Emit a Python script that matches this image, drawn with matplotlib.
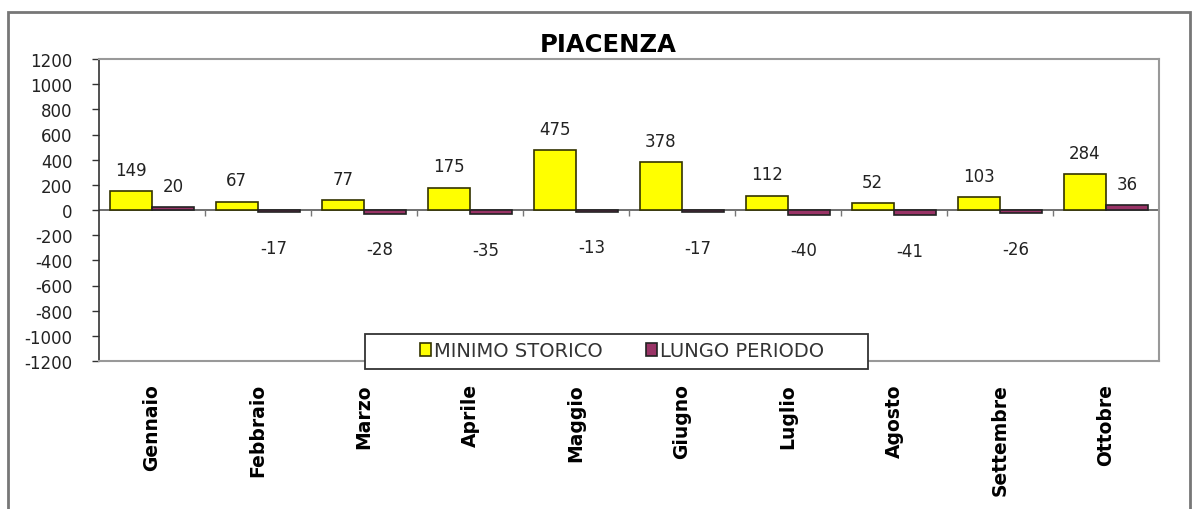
import matplotlib
matplotlib.use("Agg")
import matplotlib.pyplot as plt
from matplotlib.patches import Rectangle
import numpy as np

categories = ["Gennaio", "Febbraio", "Marzo", "Aprile", "Maggio", "Giugno",
              "Luglio", "Agosto", "Settembre", "Ottobre"]
minimo_storico = [149, 67, 77, 175, 475, 378, 112, 52, 103, 284]
lungo_periodo = [20, -17, -28, -35, -13, -17, -40, -41, -26, 36]
yticks = list(range(-1200, 1201, 200))
title = "PIACENZA"

plt.rcParams['font.family'] = ['DejaVu Sans']
fig = plt.figure(figsize=(11.93, 5.10), dpi=100)
ax = fig.add_axes([99/1193, 1 - 362/510, (1159-99)/1193, (362-60)/510])

x = np.arange(len(categories))
w = 0.4
b1 = ax.bar(x - w/2, minimo_storico, w, color="#FFFF00", edgecolor="#333300", linewidth=1.2,
            label="MINIMO STORICO", zorder=3)
b2 = ax.bar(x + w/2, lungo_periodo, w, color="#993366", edgecolor="#222222", linewidth=1.2,
            label="LUNGO PERIODO", zorder=3)

for bars, vals in ((b1, minimo_storico), (b2, lungo_periodo)):
    for r, v in zip(bars, vals):
        cx = r.get_x() + r.get_width()/2
        if v >= 0:
            ax.annotate(str(v), (cx, v), xytext=(0, 9), textcoords="offset points",
                        ha="center", va="bottom", fontsize=12, color="#222222")
        else:
            ax.annotate(str(v), (cx - 0.05, v), xytext=(0, -19), textcoords="offset points",
                        ha="center", va="top", fontsize=12, color="#222222")

ax.set_xlim(-0.5, len(categories) - 0.5)
ax.set_ylim(-1200, 1200)
ax.set_yticks(yticks)
ax.set_yticklabels([str(t) for t in yticks], fontsize=12, color="#222222")
ax.tick_params(axis="y", direction="out", length=5, width=1, color="#333333", pad=14)

ax.set_xticks(x)
ax.set_xticklabels(categories, rotation=90, fontsize=13.5, fontweight="bold", va="top")
ax.tick_params(axis="x", length=0, pad=16)

# zero line with category separators
ax.axhline(0, color="#555555", linewidth=1.2, zorder=2)
ax.vlines(x[1:] - 0.5, -45, 0, color="#777777", linewidth=1, zorder=2)

for s in ("top", "right", "bottom"):
    ax.spines[s].set_color("#999999")
    ax.spines[s].set_linewidth(1.5)
ax.spines["left"].set_color("#333333")
ax.spines["left"].set_linewidth(1.2)

fig.text(608/1193, 1 - 45/510, title, ha="center", va="center", fontsize=17.5, fontweight="bold")

# legend frame
fig.patches.append(Rectangle((365/1193, 1 - 370/510), (868-365)/1193, 35/510,
                             transform=fig.transFigure, facecolor="white", edgecolor="#333333",
                             linewidth=1.3, zorder=9))
leg = fig.legend(loc="center", bbox_to_anchor=(622/1193, 1 - 352/510), ncol=2, fontsize=14,
                 frameon=False, handlelength=0.6, handleheight=0.6, handletextpad=0.15,
                 columnspacing=2.2, borderpad=0.2)
for t in leg.get_texts():
    t.set_color("#333333")
leg.set_zorder(10)

fig.patches.append(Rectangle((8/1193, -0.05), (1190-8)/1193, 1 - 13/510 + 0.05,
                             transform=fig.transFigure, fill=False, edgecolor="#777777",
                             linewidth=2))

fig.savefig("out.png", dpi=100)
